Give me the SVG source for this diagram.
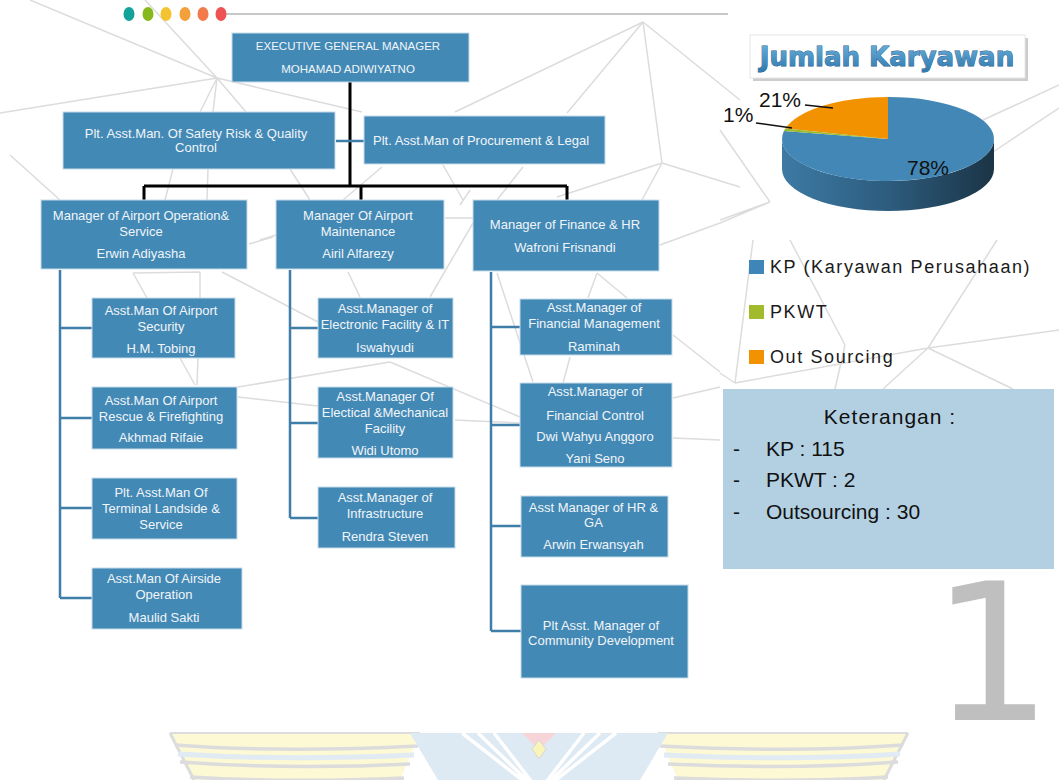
<svg xmlns="http://www.w3.org/2000/svg" width="1059" height="780" viewBox="0 0 1059 780">
<defs>
<style>
.bg{stroke:#dcdcdc;stroke-width:1.5;fill:none}
.box{fill:#4389b6;stroke:#c8dbe9;stroke-width:1}
.t{font-family:"Liberation Sans",Arial,sans-serif;font-size:13px;fill:#f1f5f8;text-anchor:middle}
.tu{font-family:"Liberation Sans",Arial,sans-serif;font-size:11.5px;fill:#f1f5f8;text-anchor:middle}
.blk{stroke:#000;stroke-width:3;fill:none}
.blu{stroke:#3f7ea9;stroke-width:2.5;fill:none}
.lg{font-family:"Liberation Sans",Arial,sans-serif;font-size:18px;fill:#1a1a1a;letter-spacing:1.6px}
.pct{font-family:"Liberation Sans",Arial,sans-serif;font-size:21px;fill:#111}
.ket{font-family:"Liberation Sans",Arial,sans-serif;font-size:21px;fill:#111}
.wgs{stroke:#d6d6d6;fill:none}
</style>
<linearGradient id="side" x1="0" y1="0" x2="1" y2="0">
<stop offset="0" stop-color="#3d7aa4"/><stop offset="0.5" stop-color="#2d5c7e"/><stop offset="1" stop-color="#1b3446"/>
</linearGradient>
<linearGradient id="ttl" x1="0" y1="0" x2="0" y2="1">
<stop offset="0" stop-color="#6cb2de"/><stop offset="1" stop-color="#2f78ad"/>
</linearGradient>
</defs>
<rect width="1059" height="780" fill="#ffffff"/>

<g id="background">
<path class="bg" d="M30,0L217,78 M145,0L217,78 M0,113L217,78 M217,78L200,112 M217,78L213,112 M217,78L246,112 M217,78L362,112 M10,155L60,200 M165,200L173,169 M207,200L208,169 M290,169L310,200
M643,22L455,112 M643,22L567,113 M643,22L662,163 M643,22L740,100 M662,163L642,200 M662,163L740,187 M557,197L662,163 M497,200L523,167 M443,165L463,200 M343,200L382,167
M1059,85L983,120 M1059,108L993,152 M720,130L770,202 M770,202L720,220 M770,202L720,223
M753,240L735,383 M790,240L845,345 M845,345L835,389 M997,240L928,348 M735,383L928,348 M720,373L735,383 M928,348L883,389 M928,348L1013,389 M928,348L1059,330
M249,244L273,237 M133,273L147,298 M133,273L200,272 M200,272L200,298 M222,272L318,322 M180,358L195,385 M198,358L197,385 M238,387L390,362 M390,362L520,417 M238,397L318,406 M260,240L276,235 M348,272L360,297 M430,297L473,223 M445,218L473,218 M455,420L520,423 M470,190L460,205 M497,273L533,382 M597,273L588,298 M597,273L627,298 M570,357L563,383 M673,335L720,372 M673,398L720,387 M673,438L720,440 M660,245L720,223"/>
</g>

<g id="watermark" opacity="0.85">
<path d="M170,733 L420,733 L400,780 L194,780 Z" fill="#fdf8cd"/>
<path d="M908,733 L658,733 L678,780 L884,780 Z" fill="#fdf8cd"/>
<path d="M170,733 L194,780 M908,733 L884,780" class="wgs" stroke-width="3"/>
<path d="M175,745 Q280,753 418,746 M180,762 Q290,770 410,764 M190,777 Q290,783 404,778" class="wgs" stroke-width="3.5"/>
<path d="M903,745 Q798,753 660,746 M898,762 Q788,770 668,764 M888,777 Q788,783 674,778" class="wgs" stroke-width="3.5"/>
<path d="M178,754 Q285,761 414,755 M900,754 Q793,761 664,755" stroke="#dce8f2" stroke-width="5" fill="none"/>
<path d="M170,733 L420,733 M658,733 L908,733" class="wgs" stroke-width="2"/>
<path d="M410,733 L668,733 L640,780 L438,780 Z" fill="#d8e6f2"/>
<path d="M462,733L535,790 M478,733L537,790 M494,733L538,790 M616,733L543,790 M600,733L541,790 M584,733L540,790" stroke="#ffffff" stroke-width="3.5" fill="none"/>
<path d="M522,733 L556,733 L539,750 Z" fill="#f5cdd1"/>
<path d="M539,740 L546,749 L539,759 L532,749 Z" fill="#faf3b0" stroke="#d0d0d0" stroke-width="1"/>
</g>

<g id="header-dots">
<line x1="226" y1="14" x2="728" y2="14" stroke="#c8c8c8" stroke-width="2"/>
<ellipse cx="129" cy="14" rx="5.5" ry="7" fill="#13a39a"/>
<ellipse cx="148" cy="14" rx="5.5" ry="7" fill="#86b81b"/>
<ellipse cx="166" cy="14" rx="5.5" ry="7" fill="#f4c430"/>
<ellipse cx="185" cy="14" rx="5.5" ry="7" fill="#f39f3a"/>
<ellipse cx="203" cy="14" rx="5.5" ry="7" fill="#f27a4b"/>
<ellipse cx="221" cy="14" rx="5.5" ry="7" fill="#ee5253"/>
</g>

<g id="connectors">
<path class="blk" d="M350,82 V186 M144,186 H567 M144,186 V200 M361,186 V200 M567,186 V200"/>
<path class="blu" d="M336,141 H364"/>
<path class="blu" d="M60,270 V598 M60,328 H92 M60,418 H92 M60,508 H92 M60,598 H92"/>
<path class="blu" d="M290,270 V518 M290,328 H318 M290,423 H318 M290,518 H318"/>
<path class="blu" d="M491,272 V631 M491,327 H520 M491,425 H520 M491,526 H521 M491,631 H521"/>
</g>

<g id="n-egm"><rect class="box" x="232" y="33" width="237" height="49"/>
<text class="tu" x="348" y="50">EXECUTIVE GENERAL MANAGER</text><text class="tu" x="348" y="73">MOHAMAD ADIWIYATNO</text></g>

<g id="n-safety"><rect class="box" x="63" y="112" width="272" height="57"/>
<text class="t" x="196" y="137.5">Plt. Asst.Man. Of Safety Risk &amp; Quality</text><text class="t" x="196" y="151.5">Control</text></g>

<g id="n-procurement"><rect class="box" x="364" y="116" width="241" height="48"/>
<text class="t" x="481" y="144.5">Plt. Asst.Man of Procurement &amp; Legal</text></g>

<g id="n-operation"><rect class="box" x="41" y="200" width="206" height="69"/>
<text class="t" x="141" y="219.5">Manager of Airport Operation&amp;</text><text class="t" x="141" y="235.5">Service</text><text class="t" x="141" y="257.5">Erwin Adiyasha</text></g>

<g id="n-maintenance"><rect class="box" x="276" y="200" width="168" height="69"/>
<text class="t" x="358" y="219.5">Manager Of Airport</text><text class="t" x="358" y="235.5">Maintenance</text><text class="t" x="358" y="257.5">Airil Alfarezy</text></g>

<g id="n-finance"><rect class="box" x="473" y="200" width="186" height="71"/>
<text class="t" x="565" y="228.5">Manager of Finance &amp; HR</text><text class="t" x="565" y="251.5">Wafroni Frisnandi</text></g>

<g id="n-security"><rect class="box" x="92" y="298" width="143" height="60"/>
<text class="t" x="161" y="314.5">Asst.Man Of Airport</text><text class="t" x="161" y="330.5">Security</text><text class="t" x="161" y="352.5">H.M. Tobing</text></g>

<g id="n-rescue"><rect class="box" x="92" y="387" width="145" height="62"/>
<text class="t" x="161" y="404.5">Asst.Man Of Airport</text><text class="t" x="161" y="420.5">Rescue &amp; Firefighting</text><text class="t" x="161" y="441.5">Akhmad Rifaie</text></g>

<g id="n-terminal"><rect class="box" x="92" y="478" width="145" height="61"/>
<text class="t" x="161" y="496.5">Plt. Asst.Man Of</text><text class="t" x="161" y="512.5">Terminal Landside &amp;</text><text class="t" x="161" y="528.5">Service</text></g>

<g id="n-airside"><rect class="box" x="92" y="568" width="150" height="61"/>
<text class="t" x="164" y="582.5">Asst.Man Of Airside</text><text class="t" x="164" y="598.5">Operation</text><text class="t" x="164" y="621.5">Maulid Sakti</text></g>

<g id="n-electronic"><rect class="box" x="318" y="298" width="135" height="60"/>
<text class="t" x="385" y="312.5">Asst.Manager of</text><text class="t" x="385" y="328.5">Electronic Facility &amp; IT</text><text class="t" x="385" y="351.5">Iswahyudi</text></g>

<g id="n-electrical"><rect class="box" x="318" y="387" width="135" height="71"/>
<text class="t" x="385" y="400.5">Asst.Manager Of</text><text class="t" x="385" y="416.5">Electical &amp;Mechanical</text><text class="t" x="385" y="432.5">Facility</text><text class="t" x="385" y="454.5">Widi Utomo</text></g>

<g id="n-infrastructure"><rect class="box" x="318" y="487" width="137" height="61"/>
<text class="t" x="385" y="501.5">Asst.Manager of</text><text class="t" x="385" y="517.5">Infrastructure</text><text class="t" x="385" y="540.5">Rendra Steven</text></g>

<g id="n-finmgmt"><rect class="box" x="520" y="299" width="152" height="56"/>
<text class="t" x="594" y="311.5">Asst.Manager of</text><text class="t" x="594" y="327.5">Financial Management</text><text class="t" x="594" y="350.5">Raminah</text></g>

<g id="n-finctrl"><rect class="box" x="520" y="383" width="152" height="84"/>
<text class="t" x="595" y="395.5">Asst.Manager of</text><text class="t" x="595" y="419.5">Financial Control</text><text class="t" x="595" y="440.5">Dwi Wahyu Anggoro</text><text class="t" x="595" y="462.5">Yani Seno</text></g>

<g id="n-hrga"><rect class="box" x="521" y="496" width="147" height="61"/>
<text class="t" x="593.5" y="511.5">Asst Manager of HR &amp;</text><text class="t" x="593.5" y="526.5">GA</text><text class="t" x="593.5" y="548.5">Arwin Erwansyah</text></g>

<g id="n-community"><rect class="box" x="521" y="585" width="167" height="93"/>
<text class="t" x="601" y="629.5">Plt Asst. Manager of</text><text class="t" x="601" y="644.5">Community Development</text></g>

<g id="chart">
<rect x="753" y="38" width="275" height="43" fill="#9a9a9a" opacity="0.5"/>
<rect x="750" y="35" width="275" height="43" fill="#ffffff" stroke="#e6e6e6" stroke-width="1"/>
<text x="887" y="66" text-anchor="middle" font-family="'DejaVu Sans',Verdana,sans-serif" font-weight="bold" font-size="26" fill="url(#ttl)" stroke="#1e5a88" stroke-width="0.9" paint-order="stroke">Jumlah Karyawan</text>
<path d="M782,139 A106,42 0 0 0 994,139 L994,169 A106,42 0 0 1 782,169 Z" fill="url(#side)"/>
<path d="M888,139 L783.9,131.1 A106,42 0 1 0 888,97 Z" fill="#4387b6"/>
<path d="M888,139 L888,97 A106,42 0 0 0 785.3,128.6 Z" fill="#f39200"/>
<path d="M888,139 L785.3,128.6 A106,42 0 0 0 783.9,131.1 Z" fill="#9dbb2f"/>
<path d="M805,105 L833,108 M756,123 L792,128" stroke="#111" stroke-width="1.5" fill="none"/>
<text class="pct" x="759" y="107">21%</text>
<text class="pct" x="723" y="122">1%</text>
<text class="pct" x="907" y="175">78%</text>
</g>

<g id="legend">
<rect x="749" y="260" width="15" height="14" fill="#3f86b8"/>
<text class="lg" x="770" y="273">KP (Karyawan Perusahaan)</text>
<rect x="749" y="305" width="15" height="14" fill="#a2bb2c"/>
<text class="lg" x="770" y="318">PKWT</text>
<rect x="749" y="350" width="15" height="14" fill="#f39200"/>
<text class="lg" x="770" y="363">Out Sourcing</text>
</g>

<g id="keterangan">
<rect x="723" y="389" width="331" height="180" fill="#b3d0e3"/>
<text class="ket" x="890" y="424" text-anchor="middle" letter-spacing="1">Keterangan :</text>
<text class="ket" x="733" y="456">-</text><text class="ket" x="766" y="456">KP : 115</text>
<text class="ket" x="733" y="487">-</text><text class="ket" x="766" y="487">PKWT : 2</text>
<text class="ket" x="733" y="519">-</text><text class="ket" x="766" y="519">Outsourcing : 30</text>
</g>

<g id="page-number">
<text x="992" y="720" text-anchor="middle" font-family="'DejaVu Sans',sans-serif" font-size="190" fill="#bfbfbf">1</text>
</g>
</svg>
